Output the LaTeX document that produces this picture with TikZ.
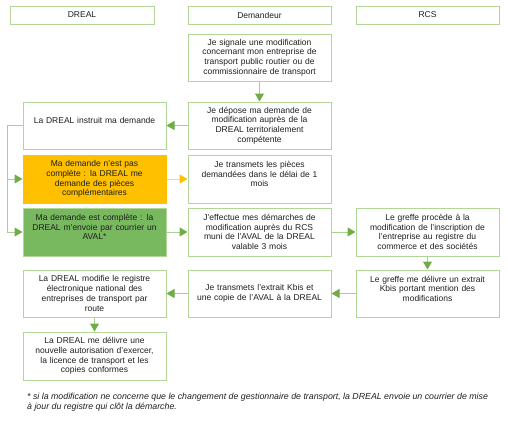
\documentclass[tikz,border=0pt]{standalone}
\usepackage{fontspec}
\setmainfont{Liberation Sans}
\usetikzlibrary{arrows.meta}
\definecolor{bordergreen}{RGB}{178,214,152}
\definecolor{linegreen}{RGB}{169,209,142}
\definecolor{headgreen}{RGB}{112,173,71}
\definecolor{fillgreen}{RGB}{120,185,95}
\definecolor{fillorange}{RGB}{255,192,0}
\definecolor{lineorange}{RGB}{255,217,102}
\definecolor{txt}{RGB}{30,30,30}
\tikzset{
  box/.style={draw=bordergreen, line width=1pt, inner sep=0pt, minimum width=143pt, minimum height=47pt,
    align=center, text width=140pt, font=\fontsize{8.5}{9.7}\selectfont, text=txt},
  hdr/.style={box, minimum height=18pt},
  conn/.style={draw=linegreen, line width=1pt, -{Triangle[length=8pt,width=9pt,fill=headgreen,color=headgreen]}},
  plainconn/.style={draw=linegreen, line width=1pt},
  oconn/.style={draw=lineorange, line width=1pt, -{Triangle[length=8pt,width=9pt,fill=fillorange,color=fillorange]}},
  note/.style={font=\fontsize{8.8}{10}\selectfont\itshape, text=txt, inner sep=0pt, anchor=north west, align=left}
}
\begin{document}
\begin{tikzpicture}[x=1pt,y=-1pt]
\useasboundingbox (0,0) rectangle (508,421);
% headers
\node[hdr, minimum width=144pt] (h1) at (82,15) {DREAL};
\node[hdr] (h2) at (259.5,15) {Demandeur};
\node[hdr] (h3) at (427.5,15) {RCS};
% boxes
\node[box] (signale) at (259.5,57.5) {Je signale une modification\\concernant mon entreprise de\\transport public routier ou de\\commissionnaire de transport};
\node[box] (depose) at (259.5,125.5) {Je dépose ma demande de\\modification auprès de la\\DREAL territorialement\\compétente};
\node[box] (instruit) at (94.5,125.5) {La DREAL instruit ma demande\\\mbox{}};
\node[box, fill=fillorange, draw=fillorange, minimum height=48pt] (incomplete) at (94.5,179) {Ma demande n'est pas\\complète : la DREAL me\\demande des pièces\\complémentaires};
\node[box, minimum height=48pt] (transmets) at (259.5,179) {Je transmets les pièces\\demandées dans le délai de 1\\mois\\\mbox{}};
\node[box, fill=fillgreen, draw=bordergreen, minimum height=48pt] (complete) at (94.5,232) {Ma demande est complète : la\\DREAL m'envoie par courrier un\\AVAL*\\\mbox{}};
\node[box, minimum height=48pt] (effectue) at (259.5,232) {J'effectue mes démarches de\\modification auprès du RCS\\muni de l'AVAL de la DREAL\\valable 3 mois};
\node[box, minimum height=48pt] (greffea) at (427.5,232) {Le greffe procède à la\\modification de l'inscription de\\l'entreprise au registre du\\commerce et des sociétés};
\node[box] (greffeb) at (427.5,293.5) {Le greffe me délivre un extrait\\Kbis portant mention des\\modifications\\\mbox{}};
\node[box] (kbis) at (259.5,293.5) {Je transmets l'extrait Kbis et\\une copie de l'AVAL à la DREAL};
\node[box] (modifie) at (94.5,293.5) {La DREAL modifie le registre\\électronique national des\\entreprises de transport par\\route};
\node[box, minimum height=48pt] (delivre) at (94.5,356) {La DREAL me délivre une\\nouvelle autorisation d'exercer,\\la licence de transport et les\\copies conformes};
% footnote
\node[note] (fn) at (27,392.5) {* si la modification ne concerne que le changement de gestionnaire de transport, la DREAL envoie un courrier de mise\\à jour du registre qui clôt la démarche.};
% connectors
\coordinate (k1) at (7,125.5);
\coordinate (k2) at (7,179);
\coordinate (k3) at (7,232);
\draw[conn] (signale) -- (depose);
\draw[conn] (depose) -- (instruit);
\draw[plainconn] (instruit.west) -- (k1) -- (k3);
\draw[conn] (k2) -- (incomplete.west);
\draw[conn] (k3) -- (complete.west);
\draw[oconn] (incomplete) -- (transmets);
\draw[conn] (complete) -- (effectue);
\draw[conn] (effectue) -- (greffea);
\draw[conn] (greffea) -- (greffeb);
\draw[conn] (greffeb) -- (kbis);
\draw[conn] (kbis) -- (modifie);
\draw[conn] (modifie) -- (delivre);
\end{tikzpicture}
\end{document}
